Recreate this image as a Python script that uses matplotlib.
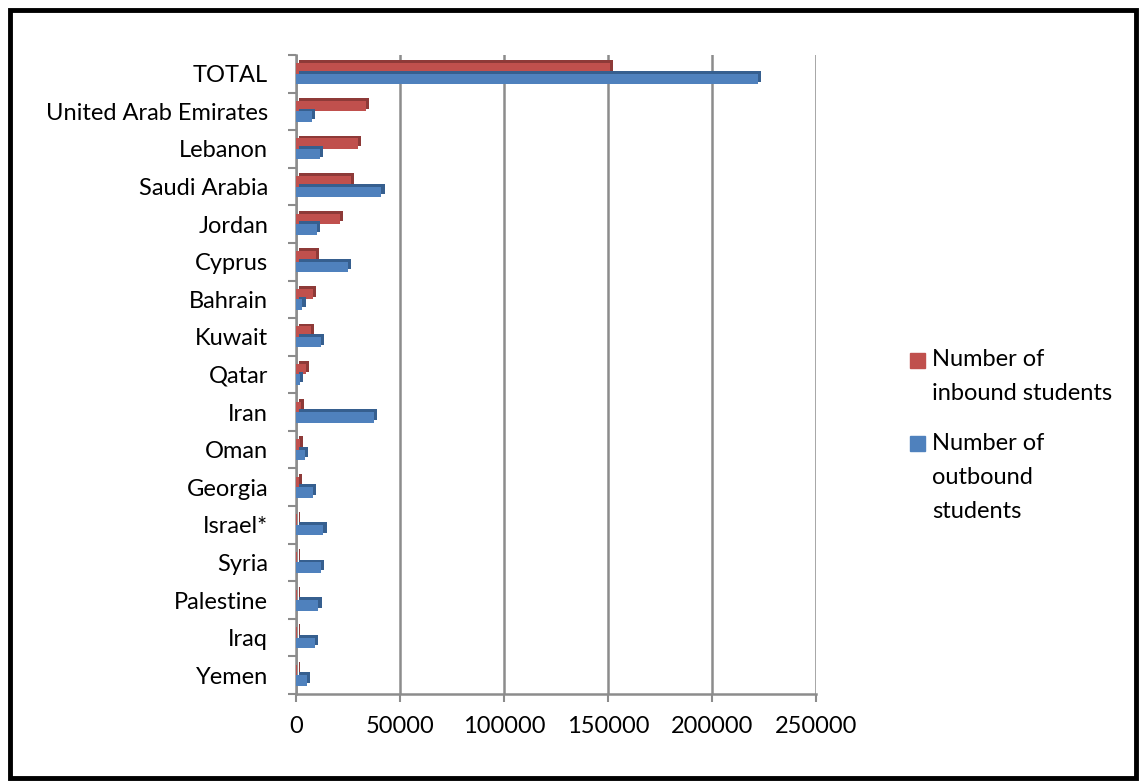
import matplotlib
matplotlib.use("Agg")
import matplotlib.pyplot as plt
import matplotlib.patheffects as pe
from matplotlib.patches import Rectangle
import numpy as np

# values (approximate)
countries = [
    "TOTAL", "United Arab Emirates", "Lebanon", "Saudi Arabia", "Jordan",
    "Cyprus", "Bahrain", "Kuwait", "Qatar", "Iran", "Oman", "Georgia",
    "Israel*", "Syria", "Palestine", "Iraq", "Yemen",
]
inbound = [151000, 33600, 29900, 26400, 21100, 9500, 8200, 7300, 4700,
           2600, 1800, 1300, 600, 500, 500, 400, 400]
outbound = [222000, 7600, 11600, 41100, 10300, 24800, 3100, 11900, 2000,
            37700, 4400, 8200, 13200, 12200, 10800, 9200, 5500]
x_ticks = [0, 50000, 100000, 150000, 200000, 250000]
series_labels = ["Number of\ninbound students", "Number of\noutbound\nstudents"]

RED = "#C0504D"
RED_DARK = "#8E3A38"
BLUE = "#4F81BD"
BLUE_DARK = "#365F8F"
GRID = "#8C8C8C"
FS = 17

plt.rcParams["font.family"] = ["Lato", "DejaVu Sans"]

W, H = 1140, 782
fig = plt.figure(figsize=(W / 100, H / 100), dpi=100)
ax = fig.add_axes([296 / W, 1 - 694 / H, (816 - 296) / W, (694 - 55) / H])

y = np.arange(len(countries))
h = 0.28
red_bars = ax.barh(y - h / 2, inbound, height=h, color=RED, zorder=3)
blue_bars = ax.barh(y + h / 2, outbound, height=h, color=BLUE, zorder=3)
for bars, dark in ((red_bars, RED_DARK), (blue_bars, BLUE_DARK)):
    for b in bars:
        b.set_path_effects([
            pe.SimplePatchShadow(offset=(2.2, 2.0), shadow_rgbFace=dark, alpha=1.0),
            pe.Normal(),
        ])

ax.set_ylim(len(countries) - 0.5, -0.5)
ax.set_xlim(0, 250000)

ax.set_yticks(y)
ax.set_yticklabels(countries, fontsize=FS)
ax.set_yticks(np.arange(len(countries) + 1) - 0.5, minor=True)
ax.tick_params(axis="y", which="major", length=0, pad=20)
ax.tick_params(axis="y", which="minor", length=6, width=1.5, color=GRID)

ax.set_xticks(x_ticks)
ax.set_xticklabels([str(v) for v in x_ticks], fontsize=FS)
ax.tick_params(axis="x", length=6, width=1.5, color=GRID, pad=10)

ax.grid(axis="x", color=GRID, linewidth=1.8, zorder=0)
ax.set_axisbelow(True)
for s in ("top", "right"):
    ax.spines[s].set_visible(False)
for s in ("left", "bottom"):
    ax.spines[s].set_color(GRID)
    ax.spines[s].set_linewidth(1.8)

# legend drawn by hand: square + one text line per row
legend_tops = [360, 443]
line_gap = 34
for label, color, ytop in zip(series_labels, [RED, BLUE], legend_tops):
    fig.patches.append(Rectangle((910 / W, 1 - (ytop + 8) / H), 15 / W, 15 / H,
                                 transform=fig.transFigure, color=color))
    for i, line in enumerate(label.split("\n")):
        fig.text(932 / W, 1 - (ytop + i * line_gap) / H, line,
                 fontsize=FS, ha="left", va="center")

fig.patches.append(Rectangle((10 / W, 4 / H), 1126 / W, 768 / H,
                             transform=fig.transFigure, fill=False,
                             edgecolor="black", linewidth=3.5))

fig.savefig("out.png", dpi=100)
